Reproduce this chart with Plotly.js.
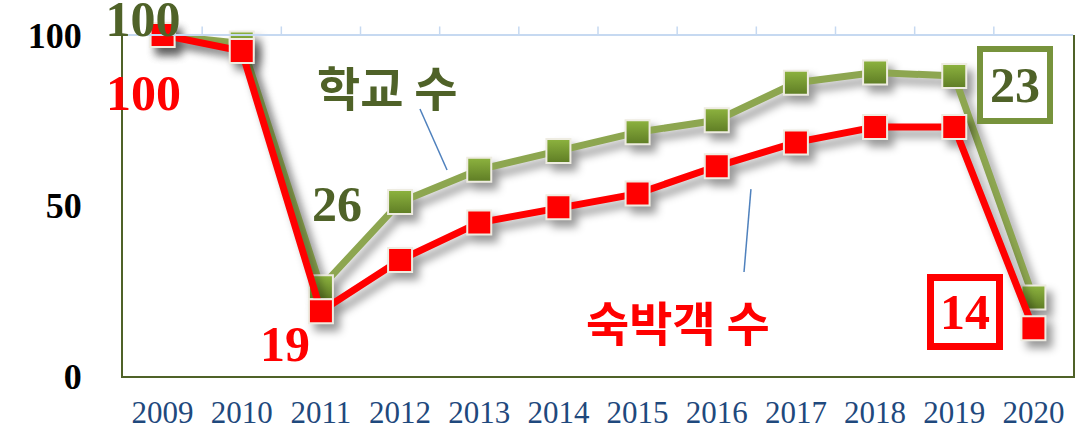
<!DOCTYPE html>
<html>
<head>
<meta charset="utf-8">
<script src="https://cdn.plot.ly/plotly-3.0.1.min.js"></script>
<style>
  html, body { margin: 0; padding: 0; background: #fff; }
  #chart { width: 1088px; height: 434px; }
  .js-plotly-plot .scatterlayer .trace { filter: drop-shadow(6px 7px 4px rgba(0,0,0,0.40)); }
  .js-plotly-plot .bglayer .bg { filter: drop-shadow(5px 7px 6px rgba(0,0,0,0.30)); }
</style>
</head>
<body>
<div id="chart"></div>
<script>
// ---- data ----
const years = ['2009','2010','2011','2012','2013','2014','2015','2016','2017','2018','2019','2020'];
const schools = [100, 97.5, 26, 51, 60.5, 66, 71.5, 75, 86, 89, 88, 23];   // 학교 수 (index)
const guests  = [100, 95.3, 19, 34, 45, 49.5, 53.5, 61.5, 68.5, 73, 73, 14]; // 숙박객 수 (index)
const yTicks = [0, 50, 100];
const seriesNames = ['학교 수', '숙박객 수'];

const serif = 'Liberation Serif, Times New Roman, serif';
const kr = 'Noto Sans CJK KR, sans-serif';
const olive = '#4F6228';
const green = '#8DA650';
const red = '#FF0000';

const traces = [
  {
    x: years, y: schools, type: 'scatter', mode: 'lines+markers', name: seriesNames[0],
    line: {color: green, width: 7},
    marker: {symbol: 'square', size: 24, color: '#8DB33F',
             gradient: {type: 'vertical', color: '#5F7D25'},
             line: {color: '#EEECE1', width: 2}},
    cliponaxis: false, hoverinfo: 'skip'
  },
  {
    x: years, y: guests, type: 'scatter', mode: 'lines+markers', name: seriesNames[1],
    line: {color: red, width: 7},
    marker: {symbol: 'square', size: 24, color: red,
             line: {color: '#EEECE1', width: 2}},
    cliponaxis: false, hoverinfo: 'skip'
  }
];

const numFont = (c) => ({family: serif, size: 50, color: c, weight: 'bold'});

const annotations = [
  {x: -0.24, y: 83, xref: 'x', yref: 'y', text: String(guests[0]), showarrow: false, font: numFont(red)},
  {x: 2.2, y: 50.5, xref: 'x', yref: 'y', text: String(schools[2]), showarrow: false, font: numFont(olive)},
  {x: 1.55, y: 9.5, xref: 'x', yref: 'y', text: String(guests[2]), showarrow: false, font: numFont(red)},
  {x: 10.77, y: 85.2, xref: 'x', yref: 'y', text: String(schools[11]), showarrow: false, font: numFont(olive),
   bordercolor: '#77933C', borderwidth: 6, borderpad: 2, bgcolor: '#fff', width: 60, height: 62},
  {x: 10.13, y: 18.9, xref: 'x', yref: 'y', text: String(guests[11]), showarrow: false, font: numFont(red),
   bordercolor: red, borderwidth: 7, borderpad: 2, bgcolor: '#fff', width: 58, height: 58},
  {x: 2.84, y: 85.3, xref: 'x', yref: 'y', text: seriesNames[0], showarrow: false,
   font: {family: kr, size: 47, color: olive, weight: 'bold'}},
  {x: 6.51, y: 16.3, xref: 'x', yref: 'y', text: seriesNames[1], showarrow: false,
   font: {family: kr, size: 47, color: red, weight: 'bold'}}
];

const shapes = [
  // top light-blue border with small ticks
  {type: 'line', xref: 'paper', yref: 'paper', x0: 0, x1: 1, y0: 1, y1: 1, line: {color: '#C6D9F1', width: 2}},
  // leader lines
  {type: 'line', xref: 'paper', yref: 'paper', x0: 0.3126, y0: 0.783, x1: 0.3411, y1: 0.604, line: {color: '#4F81BD', width: 1.5}},
  {type: 'line', xref: 'paper', yref: 'paper', x0: 0.661, y0: 0.548, x1: 0.6537, y1: 0.305, line: {color: '#4F81BD', width: 1.5}}
];
for (let k = 1; k < years.length; k++) {
  shapes.push({type: 'line', xref: 'paper', yref: 'paper', x0: k / years.length, x1: k / years.length,
               y0: 1, y1: 1.025, line: {color: '#C6D9F1', width: 1.5}});
}

const layout = {
  width: 1088, height: 434,
  margin: {l: 123, r: 15, t: 35, b: 58},
  paper_bgcolor: '#fff', plot_bgcolor: '#fff',
  showlegend: false,
  // first value of 학교 수, placed at the top-left edge like the reference
  title: {text: String(schools[0]), x: 143 / 1088, xanchor: 'center', xref: 'container',
          y: 1 - 18 / 434, yanchor: 'middle', yref: 'container', font: numFont(olive)},
  xaxis: {
    type: 'category', range: [-0.5, 11.5], showgrid: false, zeroline: false,
    showline: true, linecolor: olive, linewidth: 2, ticks: '',
    tickfont: {family: serif, size: 31, color: '#1F497D'},
    ticklabelstandoff: 8, fixedrange: true
  },
  yaxis: {
    range: [0, 100], tickvals: yTicks, showgrid: false, zeroline: false,
    showline: true, mirror: true, linecolor: olive, linewidth: 2, ticks: '',
    tickfont: {family: serif, size: 36, color: '#000', weight: 'bold'},
    ticklabelstandoff: 32, fixedrange: true
  },
  annotations: annotations,
  shapes: shapes
};

Plotly.newPlot('chart', traces, layout, {staticPlot: true, displayModeBar: false});
</script>
</body>
</html>
